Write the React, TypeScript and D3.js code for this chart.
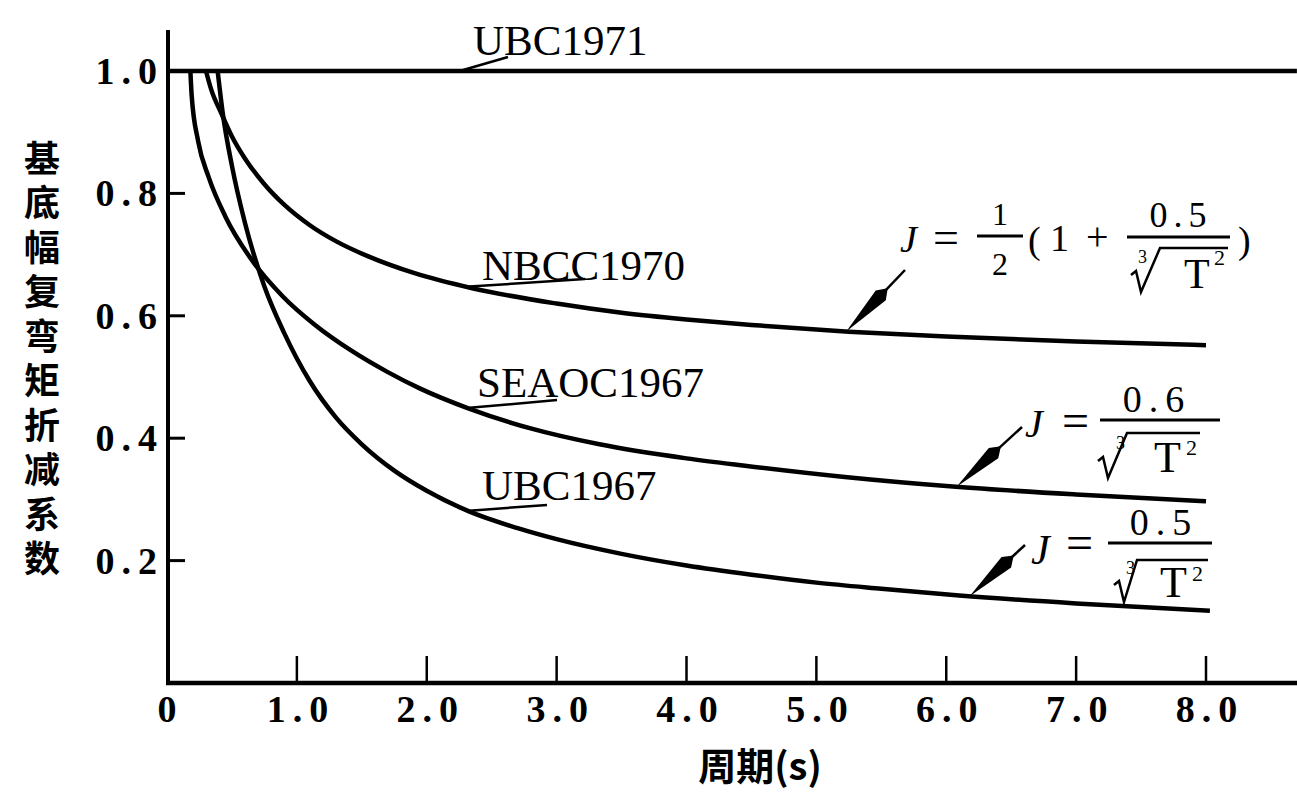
import React, { useRef, useEffect } from 'react'
import * as d3 from 'd3'

// axis ticks
const periodTicks = [0, 1, 2, 3, 4, 5, 6, 7, 8]
const periodLabels = ['0', '1.0', '2.0', '3.0', '4.0', '5.0', '6.0', '7.0', '8.0']
const coefTicks = [0.2, 0.4, 0.6, 0.8, 1.0]
const coefLabels = ['0.2', '0.4', '0.6', '0.8', '1.0']

// curves: period T (s) and reduction coefficient J
const ubc1971T = [0, 8.7]
const ubc1971J = [1.0, 1.0]

const nbccT = [0.30, 0.34, 0.42, 0.50, 0.60, 0.75, 0.90, 1.10, 1.30, 1.55, 1.90, 2.35, 3.00, 3.50, 4.00, 4.50, 5.25, 6.00, 7.00, 8.00]
const nbccJ = [1.0, 0.970, 0.930, 0.893, 0.857, 0.815, 0.782, 0.748, 0.722, 0.697, 0.670, 0.645, 0.620, 0.605, 0.594, 0.585, 0.574, 0.566, 0.558, 0.552]

const seaocT = [0.18, 0.19, 0.24, 0.32, 0.45, 0.65, 0.89, 1.14, 1.42, 1.70, 1.95, 2.33, 2.80, 3.33, 4.00, 4.45, 5.20, 6.05, 7.00, 8.00]
const seaocJ = [1.0, 0.960, 0.885, 0.827, 0.762, 0.692, 0.632, 0.585, 0.543, 0.508, 0.481, 0.448, 0.416, 0.390, 0.367, 0.355, 0.337, 0.321, 0.308, 0.297]

const ubc1967T = [0.39, 0.43, 0.50, 0.60, 0.75, 0.90, 1.10, 1.30, 1.50, 1.75, 2.00, 2.33, 2.70, 3.00, 3.50, 4.00, 4.50, 5.00, 5.50, 6.10, 7.00, 8.03]
const ubc1967J = [1.0, 0.930, 0.845, 0.752, 0.648, 0.573, 0.493, 0.434, 0.390, 0.347, 0.314, 0.280, 0.253, 0.235, 0.211, 0.192, 0.177, 0.164, 0.154, 0.143, 0.130, 0.118]

const yTitle = '基底幅复弯矩折减系数'
const xTitle = '周期(s)'

const serif = "'Liberation Serif', 'Times New Roman', serif"
const cjk = "'Noto Sans CJK SC', sans-serif"

const App = () => {
    const element = useRef<SVGSVGElement>(null)

    useEffect(() => {
        const root = d3.select(element.current)
        root.selectAll('*').remove()

        const x = d3.scaleLinear().domain([0, 8]).range([167, 1206])
        const y = d3.scaleLinear().domain([0, 1]).range([683, 71])

        const series = [
            { name: 'UBC1971', t: ubc1971T, j: ubc1971J },
            { name: 'NBCC1970', t: nbccT, j: nbccJ },
            { name: 'SEAOC1967', t: seaocT, j: seaocJ },
            { name: 'UBC1967', t: ubc1967T, j: ubc1967J },
        ]
        // piecewise value along a curve, used to hook labels and arrows on it
        const at = (s: any, t: number) => d3.scaleLinear().domain(s.t).range(s.j)(t)

        const txt = (str: string, tx: number, ty: number, size: number, opts: any = {}) => {
            const el = root.append('text')
                .attr('x', tx)
                .attr('y', ty)
                .attr('font-family', opts.family || serif)
                .attr('font-size', size)
                .attr('fill', '#000')
                .text(str)
            if (opts.italic) el.attr('font-style', 'italic')
            if (opts.anchor) el.attr('text-anchor', opts.anchor)
            if (opts.ls) el.attr('letter-spacing', opts.ls)
            if (opts.weight) el.attr('font-weight', opts.weight)
            return el
        }
        const seg = (x1: number, y1: number, x2: number, y2: number, w: number) =>
            root.append('line')
                .attr('x1', x1).attr('y1', y1)
                .attr('x2', x2).attr('y2', y2)
                .attr('stroke', '#000')
                .attr('stroke-width', w)

        // axes
        seg(168, 30, 168, 685, 4)
        seg(166, 683, 1297, 683, 4.5)
        coefTicks.forEach((v, i) => {
            seg(168, y(v), 185, y(v), 3)
            txt(coefLabels[i], 164, y(v) + 13, 38, { anchor: 'end', ls: 7, weight: 700 })
        })
        periodTicks.forEach((v, i) => {
            if (v > 0) seg(x(v), 683, x(v), 656, 2.5)
            txt(periodLabels[i], x(v) + (v > 0 ? 4 : 0), 722, 38, { anchor: 'middle', ls: v > 0 ? 7 : 0, weight: 700 })
        })

        // axis titles
        txt(xTitle, 760, 780, 38, { family: cjk, anchor: 'middle', weight: 700 })
        txt(yTitle, 42, 140, 36, { family: cjk, weight: 700, ls: 8.5 })
            .style('writing-mode', 'vertical-rl')
            .style('text-orientation', 'upright')

        // curves
        series.forEach(s => {
            const line = d3.line<number>()
                .x((d, i) => x(s.t[i]))
                .y(d => y(d))
                .curve(d3.curveMonotoneX)
            root.append('path')
                .attr('d', line(s.j))
                .attr('fill', 'none')
                .attr('stroke', '#000')
                .attr('stroke-width', 4.5)
        })

        // curve names with leader lines
        const labels = [
            { s: 0, touch: 2.28, tx: 473, ty: 55, ex: 508, ey: 57 },
            { s: 1, touch: 2.33, tx: 482, ty: 280, ex: 585, ey: 279 },
            { s: 2, touch: 2.33, tx: 477, ty: 397, ex: 557, ey: 400 },
            { s: 3, touch: 2.33, tx: 482, ty: 500, ex: 547, ey: 505 },
        ]
        labels.forEach(l => {
            const s = series[l.s]
            txt(s.name, l.tx, l.ty, 43)
            seg(x(l.touch), y(at(s, l.touch)) - 1, l.ex, l.ey, 2.5)
        })

        // formula arrows
        const arrow = (sx: number, sy: number, tip: number[]) => {
            const [ax, ay] = tip
            const len = Math.hypot(ax - sx, ay - sy)
            const ux = (ax - sx) / len, uy = (ay - sy) / len
            const bx = ax - ux * 50, by = ay - uy * 50
            const nx = -uy * 7, ny = ux * 7
            seg(sx, sy, bx, by, 2.5)
            root.append('path')
                .attr('d', `M${ax},${ay}L${bx + nx},${by + ny}L${bx - ux * 10},${by - uy * 10}L${bx - nx},${by - ny}Z`)
                .attr('fill', '#000')
        }
        arrow(905, 270, [x(5.23), y(at(series[1], 5.23))])
        arrow(1022, 427, [x(6.08), y(at(series[2], 6.08))])
        arrow(1025, 545, [x(6.18), y(at(series[3], 6.18))])

        const radical = (x0: number, yb: number, yt: number, x1: number, x2: number) =>
            root.append('path')
                .attr('d', `M${x0 - 10},${yb - 17}L${x0 - 5},${yb - 21}L${x0},${yb}L${x1},${yt}L${x2},${yt}`)
                .attr('fill', 'none')
                .attr('stroke', '#000')
                .attr('stroke-width', 2.5)

        // J = 1/2 (1 + 0.5 / cbrt(T^2))
        txt('J', 900, 252, 38, { italic: true })
        txt('=', 933, 253, 46)
        txt('1', 1000, 225, 32, { anchor: 'middle' })
        seg(977, 236, 1023, 236, 3)
        txt('2', 1000, 275, 32, { anchor: 'middle' })
        txt('(', 1028, 253, 38)
        txt('1', 1050, 251, 38)
        txt('+', 1086, 250, 40)
        txt('0.5', 1181, 227, 36, { anchor: 'middle', ls: 6 })
        seg(1127, 237, 1230, 237, 3)
        radical(1141, 292, 248, 1160, 1228)
        txt('3', 1138, 263, 18)
        txt('T', 1184, 288, 42)
        txt('2', 1214, 265, 22)
        txt(')', 1238, 253, 38)

        // J = 0.6 / cbrt(T^2)
        txt('J', 1025, 437, 40, { italic: true })
        txt('=', 1062, 437, 48)
        txt('0.6', 1157, 412, 38, { anchor: 'middle', ls: 7 })
        seg(1100, 420, 1220, 420, 3)
        radical(1108, 478, 433, 1127, 1200)
        txt('3', 1116, 449, 18)
        txt('T', 1154, 472, 44)
        txt('2', 1186, 455, 22)

        // J = 0.5 / cbrt(T^2)
        txt('J', 1031, 564, 42, { italic: true })
        txt('=', 1066, 559, 48)
        txt('0.5', 1164, 535, 38, { anchor: 'middle', ls: 7 })
        seg(1108, 543, 1212, 543, 3)
        radical(1124, 602, 560, 1137, 1208)
        txt('3', 1126, 574, 18)
        txt('T', 1160, 597, 44)
        txt('2', 1192, 581, 22)
    }, [])

    return (
        <svg
            ref={element}
            width={1297}
            height={792}
            style={{ position: 'absolute', left: 0, top: 0, background: '#fff' }}
        />
    )
}

export default App
